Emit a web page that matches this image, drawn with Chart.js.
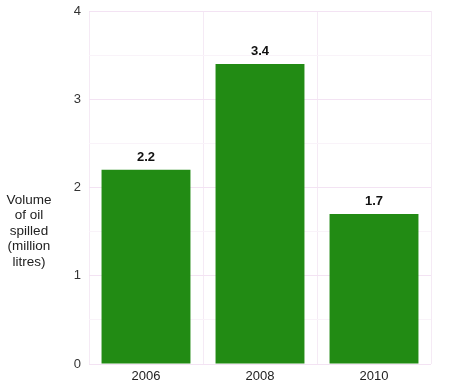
<!DOCTYPE html>
<html>
<head>
<meta charset="utf-8">
<script src="https://cdn.jsdelivr.net/npm/chart.js@4/dist/chart.umd.min.js"></script>
<style>
html,body{margin:0;padding:0;background:#fff;}
#wrap{width:450px;height:388px;position:relative;}
</style>
</head>
<body>
<div id="wrap"><canvas id="c" width="450" height="388"></canvas></div>
<script>
const categories = ["2006", "2008", "2010"];
const volumes = [2.2, 3.4, 1.7];
const yTitleLines = ["Volume", "of oil", "spilled", "(million", "litres)"];

const FONT = "'Liberation Sans', Arial, sans-serif";

const labelPlugin = {
  id: 'labels',
  afterDatasetsDraw(chart) {
    const ctx = chart.ctx;
    const meta = chart.getDatasetMeta(0);
    ctx.save();
    ctx.font = "bold 13px " + FONT;
    ctx.fillStyle = "#111";
    ctx.textAlign = "center";
    ctx.textBaseline = "bottom";
    meta.data.forEach((bar, i) => {
      ctx.fillText(String(volumes[i]), bar.x, bar.y - 6);
    });
    ctx.restore();
  }
};

const yTitlePlugin = {
  id: 'ytitle',
  afterDraw(chart) {
    const ctx = chart.ctx;
    ctx.save();
    ctx.font = "13.5px " + FONT;
    ctx.fillStyle = "#222";
    ctx.textAlign = "center";
    ctx.textBaseline = "middle";
    const lh = 15.5;
    const cy = 231;
    const start = cy - (yTitleLines.length - 1) * lh / 2;
    yTitleLines.forEach((t, i) => ctx.fillText(t, 29, start + i * lh));
    ctx.restore();
  }
};

new Chart(document.getElementById('c'), {
  type: 'bar',
  data: {
    labels: categories,
    datasets: [{
      data: volumes,
      backgroundColor: '#228b14',
      borderWidth: 0,
      barPercentage: 0.78,
      categoryPercentage: 1.0
    }]
  },
  options: {
    responsive: false,
    animation: false,
    layout: { padding: { top: 11, right: 19, left: 0, bottom: 0 } },
    plugins: { legend: { display: false }, tooltip: { enabled: false } },
    scales: {
      x: {
        grid: { offset: true, color: '#f5eaf5', drawTicks: false },
        border: { display: false },
        ticks: { font: { size: 13, family: FONT }, color: '#222', padding: 5 },
        afterFit(s) { s.height = 24; s.paddingLeft = 0; s.paddingRight = 0; }
      },
      y: {
        min: 0, max: 4,
        ticks: {
          stepSize: 0.5,
          font: { size: 13, family: FONT }, color: '#333', padding: 8,
          callback: (v) => Number.isInteger(v) ? String(v) : ''
        },
        grid: {
          drawTicks: false,
          color: (c) => Number.isInteger(c.tick && c.tick.value) ? '#f3e3f3' : '#f9f3f9'
        },
        border: { display: false },
        afterFit(s) { s.width = 89; s.paddingTop = 0; s.paddingBottom = 0; }
      }
    }
  },
  plugins: [labelPlugin, yTitlePlugin]
});
</script>
</body>
</html>
